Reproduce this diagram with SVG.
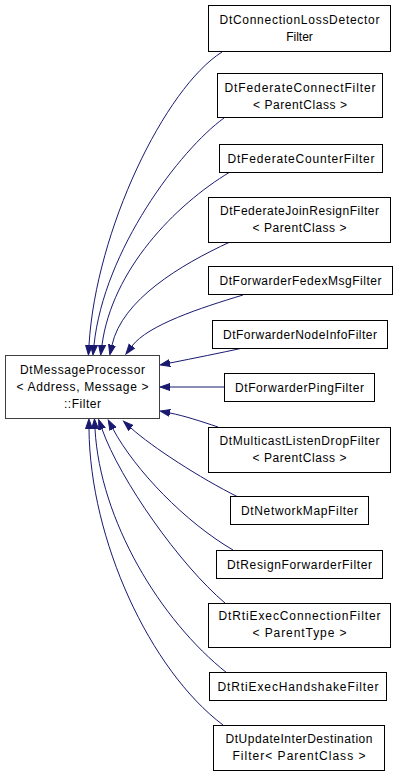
<svg xmlns="http://www.w3.org/2000/svg" width="397" height="776" viewBox="0 0 397 776">
<style>
.box{fill:#fff;stroke:#000;stroke-width:1}
.main{fill:#fff;stroke:#404040;stroke-width:1}
text{font-family:"Liberation Sans",Arial,sans-serif;font-size:12px;fill:#000;text-anchor:middle}
.e{fill:none;stroke:#191970;stroke-width:1;marker-end:url(#arr)}
</style>
<defs>
<marker id="arr" markerUnits="userSpaceOnUse" orient="auto" viewBox="0 -5 12 10" refX="0" refY="0" markerWidth="12" markerHeight="10">
<path d="M0,-3.5 L10,0 L0,3.5 z" fill="#191970" stroke="#191970" stroke-width="1"/>
</marker>
</defs>
<rect width="397" height="776" fill="#fff"/>
<g id="edges">
<path class="e" d="M222,52 C165,88 96,230 89,345"/>
<path class="e" d="M224,118 C180,150 104,250 94,345"/>
<path class="e" d="M230,172 C175,205 112,270 102,345"/>
<path class="e" d="M230,242 C180,265 122,300 112,345"/>
<path class="e" d="M243,295 C200,308 148,325 132,346"/>
<path class="e" d="M243,348 C220,353 195,358 170,363"/>
<path class="e" d="M224,387 L170,387"/>
<path class="e" d="M218,427 C200,421 185,416 170,413"/>
<path class="e" d="M238,497 C200,478 152,447 131,428"/>
<path class="e" d="M233,550 C185,522 135,470 113,429"/>
<path class="e" d="M225,603 C180,565 120,480 102,429"/>
<path class="e" d="M227,673 C160,620 100,520 95,429"/>
<path class="e" d="M223,725 C150,670 90,540 89,429"/>
</g>
<g id="main">
<rect class="main" x="5.5" y="355.5" width="154" height="63"/>
<text x="82.5" y="374" textLength="125" lengthAdjust="spacing">DtMessageProcessor</text>
<text x="82.5" y="391" textLength="132" lengthAdjust="spacing">&lt; Address, Message &gt;</text>
<text x="82.5" y="408" textLength="37" lengthAdjust="spacing">::Filter</text>
</g>
<g id="n1">
<rect class="box" x="208.5" y="5.5" width="182" height="46"/>
<text x="299.5" y="24" textLength="160" lengthAdjust="spacing">DtConnectionLossDetector</text>
<text x="299.5" y="41">Filter</text>
</g>
<g id="n2">
<rect class="box" x="217.5" y="73.5" width="165" height="44"/>
<text x="300" y="91.5" textLength="151" lengthAdjust="spacing">DtFederateConnectFilter</text>
<text x="300" y="108.5" textLength="94" lengthAdjust="spacing">&lt; ParentClass &gt;</text>
</g>
<g id="n3">
<rect class="box" x="219.5" y="144.5" width="163" height="28"/>
<text x="301" y="162.5" textLength="147" lengthAdjust="spacing">DtFederateCounterFilter</text>
</g>
<g id="n4">
<rect class="box" x="208.5" y="197.5" width="182" height="45"/>
<text x="299.5" y="215" textLength="159" lengthAdjust="spacing">DtFederateJoinResignFilter</text>
<text x="299.5" y="232" textLength="94" lengthAdjust="spacing">&lt; ParentClass &gt;</text>
</g>
<g id="n5">
<rect class="box" x="208.5" y="266.5" width="184" height="28"/>
<text x="300.5" y="284.5" textLength="162" lengthAdjust="spacing">DtForwarderFedexMsgFilter</text>
</g>
<g id="n6">
<rect class="box" x="212.5" y="320.5" width="175" height="28"/>
<text x="300" y="338.5" textLength="154" lengthAdjust="spacing">DtForwarderNodeInfoFilter</text>
</g>
<g id="n7">
<rect class="box" x="224.5" y="373.5" width="150" height="28"/>
<text x="299.5" y="391.5" textLength="129" lengthAdjust="spacing">DtForwarderPingFilter</text>
</g>
<g id="n8">
<rect class="box" x="208.5" y="427.5" width="182" height="45"/>
<text x="299.5" y="445" textLength="160" lengthAdjust="spacing">DtMulticastListenDropFilter</text>
<text x="299.5" y="462" textLength="94" lengthAdjust="spacing">&lt; ParentClass &gt;</text>
</g>
<g id="n9">
<rect class="box" x="230.5" y="496.5" width="138" height="28"/>
<text x="299.5" y="514.5" textLength="117" lengthAdjust="spacing">DtNetworkMapFilter</text>
</g>
<g id="n10">
<rect class="box" x="216.5" y="550.5" width="166" height="28"/>
<text x="299.5" y="568.5" textLength="145" lengthAdjust="spacing">DtResignForwarderFilter</text>
</g>
<g id="n11">
<rect class="box" x="208.5" y="603.5" width="182" height="44"/>
<text x="299.5" y="620" textLength="162" lengthAdjust="spacing">DtRtiExecConnectionFilter</text>
<text x="299.5" y="637" textLength="94" lengthAdjust="spacing">&lt; ParentType &gt;</text>
</g>
<g id="n12">
<rect class="box" x="209.5" y="672.5" width="177" height="28"/>
<text x="298" y="690.5" textLength="161" lengthAdjust="spacing">DtRtiExecHandshakeFilter</text>
</g>
<g id="n13">
<rect class="box" x="213.5" y="725.5" width="171" height="45"/>
<text x="299" y="743" textLength="147" lengthAdjust="spacing">DtUpdateInterDestination</text>
<text x="299" y="760" textLength="133" lengthAdjust="spacing">Filter&lt; ParentClass &gt;</text>
</g>
</svg>
